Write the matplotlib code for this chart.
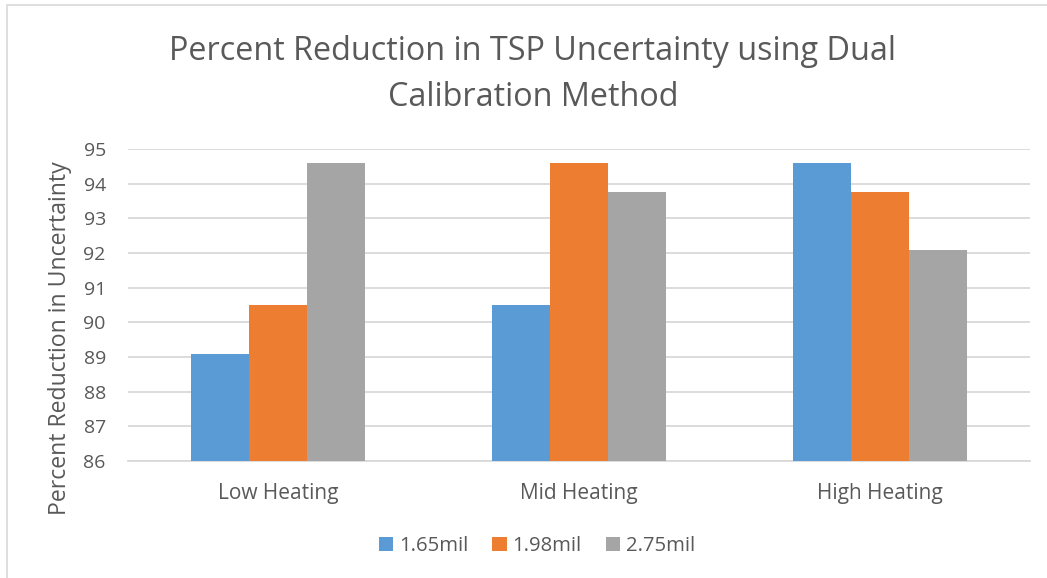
import matplotlib
matplotlib.use("Agg")
import matplotlib.pyplot as plt
import numpy as np
from matplotlib.patches import Rectangle

categories = ["Low Heating", "Mid Heating", "High Heating"]
series_names = ["1.65mil", "1.98mil", "2.75mil"]
values_165 = [89.1, 90.5, 94.6]
values_198 = [90.5, 94.6, 93.75]
values_275 = [94.6, 93.75, 92.1]
y_ticks = [86, 87, 88, 89, 90, 91, 92, 93, 94, 95]

colors = ["#5B9BD5", "#ED7D31", "#A5A5A5"]
text_color = "#595959"
grid_color = "#D9D9D9"

plt.rcParams["font.family"] = ["Open Sans", "DejaVu Sans"]

W, H = 1047, 578
fig = plt.figure(figsize=(W / 100, H / 100), dpi=100)
fig.patch.set_facecolor("white")

# chart area border (runs off the right and bottom edges)
fig.patches.append(Rectangle((7 / W, -10 / H), (W + 10) / W, (H - 5 + 10) / H,
                             transform=fig.transFigure, fill=False,
                             edgecolor="#D9D9D9", linewidth=1.2))

ax = fig.add_axes([128 / W, 1 - 461 / H, (1030 - 128) / W, (461 - 149) / H])

x = np.arange(len(categories))
bw = 0.193
for i, (vals, name) in enumerate(zip([values_165, values_198, values_275], series_names)):
    ax.bar(x + (i - 1) * bw, np.array(vals) - y_ticks[0], bottom=y_ticks[0],
           width=bw, color=colors[i], label=name, zorder=3, linewidth=0)

ax.set_xlim(-0.5, len(categories) - 0.5)
ax.set_ylim(y_ticks[0], y_ticks[-1])
ax.set_yticks(y_ticks)
ax.set_xticks(x)
ax.set_xticklabels(categories)
ax.yaxis.grid(True, color=grid_color, linewidth=1.3, zorder=0)
ax.set_axisbelow(True)
for s in ["top", "right", "left"]:
    ax.spines[s].set_visible(False)
ax.spines["bottom"].set_color(grid_color)
ax.spines["bottom"].set_linewidth(1.3)
ax.tick_params(axis="both", length=0, colors=text_color, labelsize=14)
ax.tick_params(axis="y", pad=16)
ax.tick_params(axis="x", labelsize=15, pad=16)

fig.text(60 / W, 1 - 338 / H, "Percent Reduction in Uncertainty", rotation=90,
         ha="center", va="center", fontsize=16.6, color=text_color)

fig.text(533 / W, 1 - 52 / H, "Percent Reduction in TSP Uncertainty using Dual",
         ha="center", va="center", fontsize=23.3, color=text_color)
fig.text(533 / W, 1 - 97 / H, "Calibration Method",
         ha="center", va="center", fontsize=23.3, color=text_color)

fig.legend(loc="center", bbox_to_anchor=(537 / W, 1 - 546 / H), ncol=3, frameon=False,
           fontsize=14.6, labelcolor=text_color, handlelength=0.7, handleheight=0.7,
           handletextpad=0.3, columnspacing=1.2)

fig.savefig("out.png", dpi=100, facecolor="white")
